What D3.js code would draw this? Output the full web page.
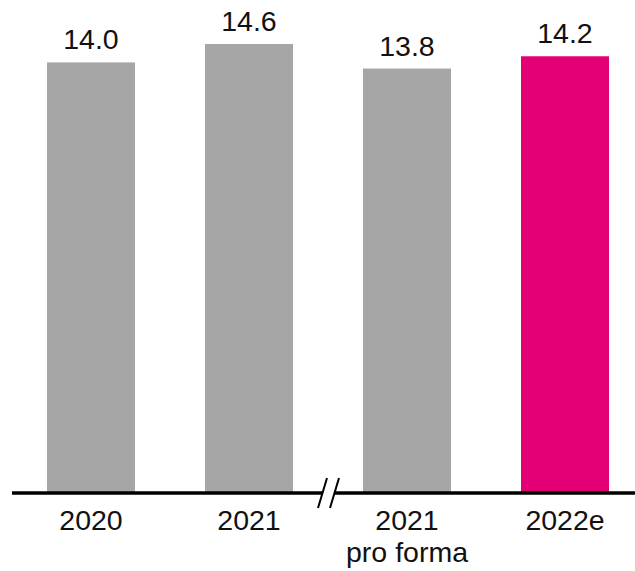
<!DOCTYPE html>
<html><head><meta charset="utf-8">
<script src="https://cdn.jsdelivr.net/npm/d3@7"></script>
<style>body{margin:0;background:#fff;}svg{display:block;}</style>
</head><body>
<script>
const categories = ["2020", "2021", "2021|pro forma", "2022e"];
const values = [14.0, 14.6, 13.8, 14.2];
const valueLabels = ["14.0", "14.6", "13.8", "14.2"];
const highlight = [false, false, false, true];

const W = 635, H = 571;
const svg = d3.select("body").append("svg").attr("width", W).attr("height", H);
const font = "'Liberation Sans', Arial, sans-serif";
const fs = 28.5;

const x = d3.scaleBand().domain(categories).range([12, 644]).paddingInner(0.443).paddingOuter(0.2215);
const y = d3.scaleLinear().domain([0, 14.6]).range([492, 44]);

svg.selectAll("rect.bar").data(categories).enter().append("rect")
  .attr("class", "bar")
  .attr("x", d => x(d))
  .attr("width", x.bandwidth())
  .attr("y", (d, i) => y(values[i]))
  .attr("height", (d, i) => y(0) - y(values[i]))
  .attr("fill", (d, i) => highlight[i] ? "#e20074" : "#a6a6a6");

svg.selectAll("text.val").data(categories).enter().append("text")
  .attr("class", "val")
  .attr("x", d => x(d) + x.bandwidth() / 2)
  .attr("y", (d, i) => y(values[i]) - 13)
  .attr("text-anchor", "middle")
  .attr("font-family", font).attr("font-size", fs).attr("fill", "#111")
  .text((d, i) => valueLabels[i]);

// axis
const axis = svg.append("g").attr("transform", `translate(0,${y(0)})`)
  .call(d3.axisBottom(x).tickSize(0).tickFormat(""));
axis.select(".domain").remove();
axis.selectAll(".tick").each(function(d) {
  const lines = d.split("|");
  const t = d3.select(this).append("text")
    .attr("text-anchor", "middle").attr("font-family", font).attr("font-size", fs).attr("fill", "#111");
  lines.forEach((l, k) => t.append("tspan").attr("x", 0).attr("y", 38 + k * 32).text(l));
});

// baseline with break
const y0 = y(0) + 1;
const breakL = 322, breakR = 335;
svg.append("line").attr("x1", 12).attr("x2", breakL).attr("y1", y0).attr("y2", y0).attr("stroke", "#000").attr("stroke-width", 3.5);
svg.append("line").attr("x1", breakR).attr("x2", 635).attr("y1", y0).attr("y2", y0).attr("stroke", "#000").attr("stroke-width", 3.5);
[[327, 318], [339, 330]].forEach(([xt, xb]) => {
  svg.append("line").attr("x1", xt).attr("y1", y0 - 15).attr("x2", xb).attr("y2", y0 + 15)
    .attr("stroke", "#000").attr("stroke-width", 2);
});
</script>
</body></html>
